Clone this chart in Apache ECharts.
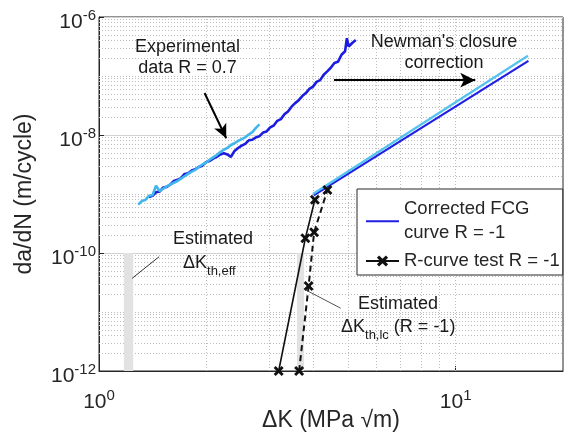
<!DOCTYPE html>
<html><head><meta charset="utf-8">
<script src="https://cdn.jsdelivr.net/npm/echarts@6/dist/echarts.min.js"></script>
<style>html,body{margin:0;padding:0;background:#fff}#c{width:565px;height:434px}</style>
</head><body><div id="c"></div>
<script>
// ---------- data ----------
const expDarkK = [1.380,1.413,1.445,1.479,1.514,1.549,1.585,1.622,1.660,1.698,1.738,1.778,1.820,1.862,1.905,1.950,1.995,2.042,2.089,2.138,2.188,2.239,2.291,2.344,2.399,2.455,2.512,2.570,2.630,2.692,2.754,2.818,2.884,2.951,3.020,3.090,3.162,3.236,3.311,3.388,3.467,3.548,3.631,3.715,3.802,3.890,3.981,4.074,4.169,4.266,4.365,4.467,4.571,4.677,4.786,4.898,4.955,5.012,5.129,5.248];
const expDarkRate = [8.91e-10,9.33e-10,1.07e-9,1.10e-9,1.29e-9,1.32e-9,1.45e-9,1.66e-9,1.74e-9,1.86e-9,2.19e-9,2.24e-9,2.51e-9,2.63e-9,2.88e-9,3.02e-9,3.47e-9,3.63e-9,3.98e-9,4.27e-9,4.68e-9,4.90e-9,4.68e-9,4.27e-9,5.37e-9,6.03e-9,6.61e-9,7.08e-9,8.13e-9,8.32e-9,9.12e-9,9.55e-9,1.10e-8,1.15e-8,1.35e-8,1.45e-8,1.74e-8,1.86e-8,2.24e-8,2.51e-8,3.02e-8,3.47e-8,3.89e-8,4.57e-8,5.13e-8,6.03e-8,6.61e-8,7.94e-8,8.51e-8,1.05e-7,1.20e-7,1.38e-7,1.66e-7,1.74e-7,2.29e-7,2.63e-7,4.37e-7,3.16e-7,3.63e-7,4.07e-7];
const expLightK = [1.288,1.318,1.349,1.380,1.413,1.445,1.479,1.514,1.549,1.585,1.622,1.660,1.698,1.738,1.778,1.820,1.862,1.905,1.950,1.995,2.042,2.089,2.138,2.188,2.239,2.291,2.344,2.399,2.455,2.512,2.570,2.630,2.692,2.754,2.818];
const expLightRate = [6.61e-10,7.59e-10,7.94e-10,9.33e-10,9.55e-10,1.38e-9,1.12e-9,1.23e-9,1.35e-9,1.45e-9,1.55e-9,1.66e-9,1.82e-9,2.00e-9,2.19e-9,2.40e-9,2.57e-9,2.88e-9,3.16e-9,3.39e-9,3.80e-9,4.17e-9,4.57e-9,5.13e-9,5.62e-9,6.03e-9,6.76e-9,7.24e-9,7.94e-9,8.51e-9,9.12e-9,1.02e-8,1.12e-8,1.32e-8,1.51e-8];
const corrDarkK = [4.0, 16.0];
const corrDarkRate = [9.5e-10, 1.8e-7];
const corrLightK = [3.98, 15.95];
const corrLightRate = [1.0e-9, 2.2e-7];
const rcSolidK = [3.19, 3.79, 4.03];
const rcSolidRate = [1e-12, 1.78e-10, 8.0e-10];
const rcDashK = [3.64, 3.87, 4.01, 4.37];
const rcDashRate = [1e-12, 2.75e-11, 2.24e-10, 1.17e-9];
const bandEffK = [1.174, 1.247];
const bandLcK = [3.59, 3.76];
const bandRate = [1e-12, 1e-10];
const arrowExpFrom = [1.977, 5.15e-8], arrowExpTo = [2.274, 8.8e-9];
const arrowNewFrom = [4.56, 8.5e-8], arrowNewTo = [11.35, 8.5e-8];
const leadEffFrom = [1.239, 3.73e-11], leadEffTo = [1.474, 8.65e-11];
const leadLcFrom = [3.80, 2.36e-11], leadLcTo = [4.76, 1.16e-11];
const xRange = [1, 20];
const yRange = [1e-12, 1e-6];
const nameCorr = 'Corrected FCG\ncurve R = -1';
const nameRc = 'R-curve test R = -1';

// ---------- helpers ----------
const FONT = 'Liberation Sans, Arial, Helvetica, sans-serif';
const zip = (a, b) => a.map((v, i) => [v, b[i]]);
const XSYM = 'path://M0,2 L2,0 L5,3 L8,0 L10,2 L7,5 L10,8 L8,10 L5,7 L2,10 L0,8 L3,5 Z';
const LINEICON = 'path://M0,0 L33,0 L33,0.01 Z M0,6.2 L33,6.2 L33,8.2 L0,8.2 Z M0,14 L33,14 L33,14.01 Z';
const isPow10 = v => Math.abs(Math.log10(v) - Math.round(Math.log10(v))) < 1e-6;
const expLabel = v => isPow10(v) ? '{b|10}{s|' + Math.round(Math.log10(v)) + '}' : '';
const supRich = {
  b: {fontSize: 21, fontFamily: FONT, color: '#262626', verticalAlign: 'bottom'},
  s: {fontSize: 15, fontFamily: FONT, color: '#262626', verticalAlign: 'bottom', padding: [0, 0, 10, 0]}
};
// minor grid line positions (dotted)
const gridY = [];
for (let e = -12; e <= -7; e++) {
  for (let m = 1; m <= 9; m++) {
    if (m === 1 && (e % 2 === 0)) continue;
    gridY.push(m * Math.pow(10, e));
  }
}
const gridX = [2, 3, 4, 5, 6, 7, 8, 9, 10];
const dotted = {color: '#bdbdbd', type: [1, 2], width: 1};
const gridLines = gridY.map(v => [{coord: [xRange[0], v]}, {coord: [xRange[1], v]}])
  .concat(gridX.map(v => [{coord: [v, yRange[0]]}, {coord: [v, yRange[1]]}]));

const chart = echarts.init(document.getElementById('c'), null, {renderer: 'canvas'});
chart.setOption({
  animation: false,
  backgroundColor: '#ffffff',
  grid: {left: 99, right: 2, top: 17, bottom: 63, outerBoundsMode: 'none', containLabel: false,
    show: true, borderColor: '#262626', borderWidth: 1, backgroundColor: 'transparent'},
  xAxis: {
    type: 'log', logBase: 10, min: xRange[0], max: xRange[1], interval: 1,
    name: 'ΔK (MPa √m)', nameLocation: 'middle', nameGap: 38, nameMoveOverlap: false,
    nameTextStyle: {fontSize: 23, fontFamily: FONT, color: '#262626'},
    axisLine: {lineStyle: {color: '#262626'}},
    axisTick: {inside: true, length: 5, lineStyle: {color: '#262626'}},
    axisLabel: {margin: 17, formatter: expLabel, rich: supRich, showMaxLabel: false},
    splitLine: {show: false}
  },
  yAxis: {
    type: 'log', logBase: 10, min: yRange[0], max: yRange[1], interval: 2,
    name: 'da/dN (m/cycle)', nameLocation: 'middle', nameGap: 63, nameRotate: 90, nameMoveOverlap: false,
    nameTextStyle: {fontSize: 23, fontFamily: FONT, color: '#262626'},
    axisLine: {lineStyle: {color: '#262626'}},
    axisTick: {inside: true, length: 5, lineStyle: {color: '#262626'}},
    axisLabel: {margin: 3, formatter: expLabel, rich: supRich, padding: [7, 0, 0, 0]},
    splitLine: {show: true, lineStyle: {color: '#d2d2d2', width: 1}}
  },
  legend: {
    data: [{name: nameCorr, icon: LINEICON}, {name: nameRc}],
    orient: 'vertical', left: 357, top: 189,
    padding: [8, 3, 2, 8], itemGap: 4, itemWidth: 33, itemHeight: 14,
    backgroundColor: '#ffffff', borderColor: '#262626', borderWidth: 1,
    textStyle: {fontSize: 18.5, fontFamily: FONT, color: '#262626', lineHeight: 24}
  },
  series: [
    {
      name: 'grid', type: 'line', data: [[1, 1e-12]], showSymbol: false, symbol: 'none',
      lineStyle: {width: 0}, silent: true, z: 1,
      markLine: {
        silent: true, symbol: 'none', z: 1, label: {show: false}, lineStyle: dotted,
        data: gridLines
      },
      markArea: {
        silent: true, z: 2, itemStyle: {color: '#e2e2e2'},
        data: [
          [{coord: [bandEffK[0], bandRate[0]]}, {coord: [bandEffK[1], bandRate[1]]}],
          [{coord: [bandLcK[0], bandRate[0]]}, {coord: [bandLcK[1], bandRate[1]]}]
        ]
      }
    },
    {
      name: 'Experimental dark', type: 'line', data: zip(expDarkK, expDarkRate), symbol: 'none',
      lineStyle: {color: '#1c1ce0', width: 2.6}, z: 3
    },
    {
      name: 'Experimental light', type: 'line', data: zip(expLightK, expLightRate), symbol: 'none',
      lineStyle: {color: '#41b6ec', width: 2.6}, z: 4
    },
    {
      name: nameCorr, type: 'line', data: zip(corrDarkK, corrDarkRate), symbol: 'none', showSymbol: false,
      color: '#1f1fe6', itemStyle: {color: '#1f1fe6'}, lineStyle: {color: '#1f1fe6', width: 2.2}, z: 5
    },
    {
      name: 'Corrected light', type: 'line', data: zip(corrLightK, corrLightRate), symbol: 'none',
      lineStyle: {color: '#55c3ee', width: 2.2}, z: 5
    },
    {
      name: nameRc, type: 'line', data: zip(rcSolidK, rcSolidRate), symbol: XSYM, symbolSize: 10,
      color: '#111', itemStyle: {color: '#111'}, lineStyle: {color: '#111', width: 1.6}, z: 6
    },
    {
      name: 'R-curve dashed', type: 'line', data: zip(rcDashK, rcDashRate), symbol: XSYM, symbolSize: 10,
      itemStyle: {color: '#111'}, lineStyle: {color: '#111', width: 2, type: [6, 4]}, z: 6
    },
    {
      name: 'annot', type: 'line', data: [[1, 1e-12]], showSymbol: false, symbol: 'none',
      lineStyle: {width: 0}, silent: true, z: 7,
      markLine: {
        silent: true, z: 7, label: {show: false}, symbol: 'none',
        data: [
          [{coord: arrowExpFrom, symbol: 'none'}, {coord: arrowExpTo, symbol: 'arrow', symbolSize: [10, 14]}],
          [{coord: arrowNewFrom, symbol: 'none'}, {coord: arrowNewTo, symbol: 'arrow', symbolSize: [11, 15]}],
          [{coord: leadEffFrom, lineStyle: {color: '#333', width: 1, type: 'solid'}}, {coord: leadEffTo}],
          [{coord: leadLcFrom, lineStyle: {color: '#555', width: 1, type: 'solid'}}, {coord: leadLcTo}]
        ],
        lineStyle: {color: '#000', width: 2, type: 'solid'}
      }
    }
  ],
  graphic: [
    {type: 'text', x: 187.5, y: 57.5, z: 100, style: {text: 'Experimental\ndata R = 0.7', fontSize: 18, fontFamily: FONT, fill: '#1a1a1a', align: 'center', verticalAlign: 'middle', lineHeight: 21}},
    {type: 'text', x: 444, y: 52.5, z: 100, style: {text: "Newman's closure\ncorrection", fontSize: 18, fontFamily: FONT, fill: '#1a1a1a', align: 'center', verticalAlign: 'middle', lineHeight: 21}},
    {type: 'text', x: 213, y: 239, z: 100, style: {text: 'Estimated', fontSize: 18, fontFamily: FONT, fill: '#1a1a1a', align: 'center', verticalAlign: 'middle'}},
    {type: 'text', x: 183, y: 266, z: 100, style: {text: '{b|ΔK}{s|th,eff}', align: 'left', verticalAlign: 'middle', fill: '#1a1a1a',
      rich: {b: {fontSize: 18, fontFamily: FONT, fill: '#1a1a1a', padding: [0, 0, 6, 0], verticalAlign: 'bottom'}, s: {fontSize: 13, fontFamily: FONT, fill: '#1a1a1a', verticalAlign: 'bottom'}}}},
    {type: 'text', x: 398, y: 304, z: 100, style: {text: 'Estimated', fontSize: 18, fontFamily: FONT, fill: '#1a1a1a', align: 'center', verticalAlign: 'middle'}},
    {type: 'text', x: 341, y: 330, z: 100, style: {text: '{b|ΔK}{s|th,lc}{b| (R = -1)}', align: 'left', verticalAlign: 'middle', fill: '#1a1a1a',
      rich: {b: {fontSize: 18, fontFamily: FONT, fill: '#1a1a1a', padding: [0, 0, 6, 0], verticalAlign: 'bottom'}, s: {fontSize: 13, fontFamily: FONT, fill: '#1a1a1a', verticalAlign: 'bottom'}}}}
  ]
});
</script></body></html>
